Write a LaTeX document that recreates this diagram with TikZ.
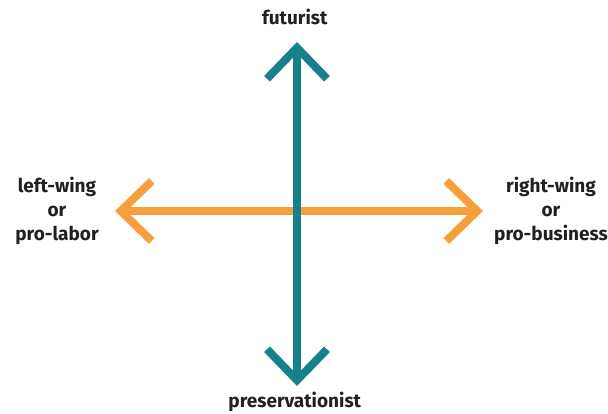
\documentclass[tikz,border=0pt]{standalone}
\usepackage{fontspec}
\setmainfont{Fira Sans}
\usetikzlibrary{arrows.meta}
\definecolor{axisteal}{HTML}{17818B}
\definecolor{axisorange}{HTML}{F7A03B}
\definecolor{labelgray}{HTML}{231F20}
\tikzset{
  axislabel/.style={ font=\fontsize{19}{24}\selectfont\bfseries, text=labelgray, align=center, inner sep=0pt },
  axisline/.style={ line width=8pt, {Straight Barb[length=31pt, width=60pt, line cap=butt, line join=miter]}-{Straight Barb[length=31pt, width=60pt, line cap=butt, line join=miter]} }
}
\begin{document}
\begin{tikzpicture}[ x=1pt, y=-1pt ]
  \useasboundingbox (0,0) rectangle (608,413);
  \node [ axislabel ] (futurist) at (297,17) { futurist };
  \node [ axislabel ] (preserv) at (297,402) { preservationist };
  \node [ axislabel ] (leftwing) at (57,211) { left-wing\\or\\pro-labor };
  \node [ axislabel ] (rightwing) at (551,211) { right-wing\\or\\pro-business };
  \coordinate (top) at (297,42);
  \coordinate (bottom) at (297,386);
  \coordinate (left) at (115,211);
  \coordinate (right) at (483,211);
  \draw [ axisline, axisorange ] (left)--(right);
  \draw [ axisline, axisteal ] (bottom)--(top);
\end{tikzpicture}
\end{document}
